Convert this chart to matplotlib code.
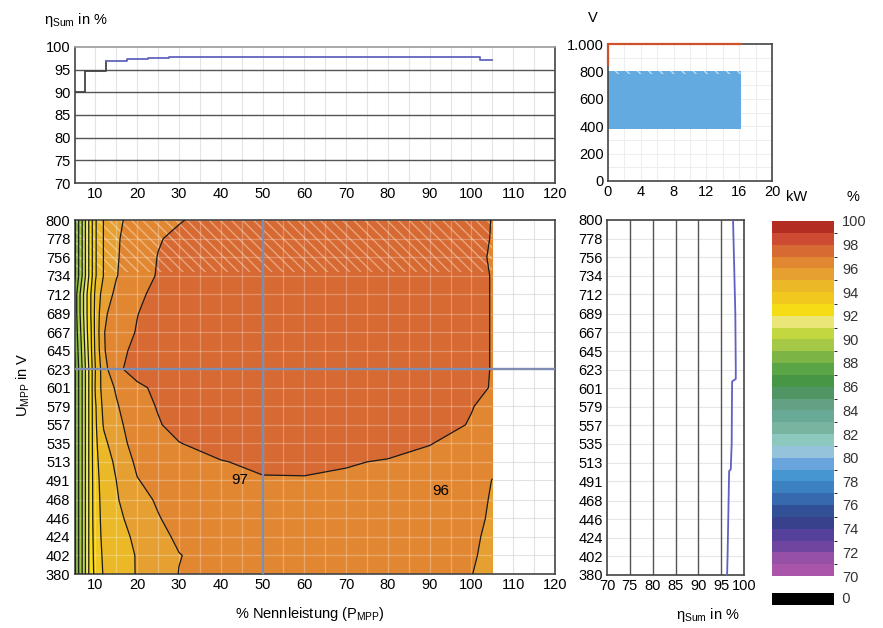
import numpy as np
import matplotlib.pyplot as plt
from matplotlib.colors import ListedColormap, BoundaryNorm
from matplotlib.cm import ScalarMappable
from matplotlib.patches import Rectangle

plt.rcParams['font.family'] = ['Liberation Sans', 'DejaVu Sans']
plt.rcParams['mathtext.fontset'] = 'custom'
plt.rcParams['mathtext.rm'] = 'Liberation Sans'
plt.rcParams['mathtext.it'] = 'Liberation Sans'
plt.rcParams['mathtext.default'] = 'regular'
plt.rcParams['font.size'] = 10
plt.rcParams['hatch.linewidth'] = 1.0

# --- data -------------------------------------------------------------
# Wirkungsgradkennfeld: Zeilen = U_MPP, Spalten = % Nennleistung
power_pct = [5, 6, 7, 8, 9, 10, 12, 15, 20, 25, 30, 40, 50, 60, 70, 80, 90, 100, 105]
u_mpp = [380, 402, 424, 446, 468, 491, 513, 535, 557, 579,
         601, 623, 645, 667, 689, 712, 734, 756, 778, 800]
eff = [
    [87.8, 89.0, 90.2, 91.5, 92.7, 93.2, 94.1, 94.55, 95.05, 95.5, 96.02, 96.3, 96.45, 96.5, 96.5, 96.45, 96.3, 96.02, 95.7],
    [87.8, 89.0, 90.2, 91.5, 92.7, 93.3, 94.2, 94.6, 95.05, 95.5, 95.97, 96.35, 96.5, 96.55, 96.55, 96.5, 96.35, 96.1, 95.75],
    [87.8, 89.0, 90.2, 91.5, 92.7, 93.4, 94.3, 94.7, 95.15, 95.75, 96.15, 96.45, 96.6, 96.65, 96.65, 96.6, 96.45, 96.2, 95.75],
    [87.8, 89.0, 90.2, 91.5, 92.7, 93.5, 94.35, 94.8, 95.35, 95.95, 96.3, 96.6, 96.72, 96.75, 96.75, 96.7, 96.55, 96.3, 95.85],
    [87.8, 89.0, 90.2, 91.5, 92.7, 93.55, 94.4, 94.9, 95.7, 96.1, 96.45, 96.75, 96.85, 96.88, 96.85, 96.8, 96.65, 96.4, 95.9],
    [87.8, 89.0, 90.2, 91.5, 92.7, 93.6, 94.5, 95.0, 95.95, 96.35, 96.6, 96.85, 96.95, 96.95, 96.9, 96.8, 96.7, 96.45, 95.98],
    [87.8, 89.0, 90.2, 91.5, 92.7, 93.7, 94.6, 95.15, 96.2, 96.5, 96.8, 96.97, 97.12, 97.15, 97.05, 96.95, 96.85, 96.6, 96.2],
    [87.8, 89.0, 90.2, 91.5, 92.7, 93.8, 94.75, 95.55, 96.4, 96.7, 96.98, 97.25, 97.35, 97.4, 97.35, 97.25, 97.02, 96.8, 96.4],
    [87.8, 89.0, 90.2, 91.5, 92.7, 93.85, 95.1, 95.75, 96.5, 96.95, 97.2, 97.5, 97.6, 97.65, 97.6, 97.5, 97.3, 96.95, 96.6],
    [87.8, 89.0, 90.2, 91.5, 92.7, 93.9, 95.3, 95.9, 96.75, 97.04, 97.35, 97.6, 97.7, 97.72, 97.7, 97.65, 97.6, 97.03, 96.8],
    [87.8, 89.0, 90.2, 91.5, 92.7, 94.1, 95.5, 96.1, 96.85, 97.15, 97.45, 97.7, 97.8, 97.8, 97.8, 97.75, 97.7, 97.65, 96.85],
    [87.8, 89.0, 90.2, 91.5, 92.7, 94.0, 95.6, 96.85, 97.3, 97.5, 97.6, 97.8, 97.85, 97.85, 97.8, 97.8, 97.75, 97.7, 96.9],
    [88.0, 89.2, 90.4, 91.7, 92.9, 94.2, 95.9, 96.75, 97.2, 97.45, 97.55, 97.75, 97.8, 97.8, 97.8, 97.75, 97.75, 97.7, 96.9],
    [88.2, 89.4, 90.6, 91.9, 93.0, 94.3, 95.95, 96.6, 97.05, 97.35, 97.5, 97.7, 97.75, 97.8, 97.8, 97.75, 97.75, 97.7, 96.9],
    [88.3, 89.6, 90.8, 92.0, 93.1, 94.3, 95.8, 96.5, 96.98, 97.3, 97.45, 97.65, 97.7, 97.75, 97.75, 97.75, 97.7, 97.7, 96.9],
    [88.3, 89.6, 90.8, 92.0, 93.1, 94.2, 95.5, 96.2, 96.85, 97.2, 97.4, 97.6, 97.7, 97.7, 97.7, 97.7, 97.7, 97.7, 96.9],
    [87.8, 89.0, 90.2, 91.5, 92.7, 93.9, 95.05, 95.95, 96.7, 97.05, 97.3, 97.55, 97.65, 97.7, 97.7, 97.7, 97.7, 97.7, 96.9],
    [87.8, 89.0, 90.2, 91.5, 92.7, 93.9, 95.05, 95.9, 96.65, 97.02, 97.25, 97.5, 97.65, 97.7, 97.7, 97.7, 97.7, 97.7, 96.75],
    [87.8, 89.0, 90.2, 91.5, 92.7, 93.9, 95.05, 95.88, 96.55, 96.95, 97.15, 97.4, 97.6, 97.7, 97.7, 97.7, 97.7, 97.7, 96.9],
    [87.8, 89.0, 90.2, 91.5, 92.7, 93.9, 95.05, 95.85, 96.3, 96.65, 96.95, 97.3, 97.5, 97.6, 97.6, 97.6, 97.6, 97.6, 96.95],
]

# Wirkungsgrad bei U_MPP = 623 V ueber der Leistung (Stufenverlauf)
p_steps = [5, 7.5, 12.5, 17.5, 22.5, 27.5, 35, 60, 77.5, 102, 105]
eta_p = [90.0, 94.8, 97.0, 97.3, 97.6, 97.8, 97.9, 97.85, 97.7, 97.1, 97.1]

# Wirkungsgrad bei 50 % Nennleistung ueber der Spannung
u_curve = [380, 402, 446, 491, 503, 505, 513, 535, 579, 609, 612, 623, 689, 756, 800]
eta_u = [96.3, 96.4, 96.55, 96.7, 96.75, 97.1, 97.15, 97.3, 97.35, 97.4, 98.2, 98.2, 98.1, 97.8, 97.6]

# Arbeitsbereich (kW / V)
p_max_kw = 16.2
u_range = [380, 800]
u_dc_max = 1000

levels = np.arange(70, 101, 1)
band_colors = ['#aa55aa', '#9650a5', '#6e46a0', '#55419b', '#37418c', '#325096',
               '#3769af', '#3c82c3', '#4696d2', '#69a5dc', '#96c3dc', '#8cc8be',
               '#78b4a0', '#69aa96', '#64a082', '#509664', '#469646', '#5aa546',
               '#7db446', '#a5c846', '#c3d741', '#ebe678', '#f5dc14', '#f0c81e',
               '#ebb928', '#e6a032', '#e18732', '#d76932', '#cd4b32', '#b42d23']

# --- layout -----------------------------------------------------------
W, H = 883, 628
fig = plt.figure(figsize=(W / 100, H / 100), dpi=100)


def box(l, t, r, b):
    return [l / W, 1 - b / H, (r - l) / W, (b - t) / H]


ax_top = fig.add_axes(box(74.5, 47, 555, 183))
ax_main = fig.add_axes(box(74.5, 220, 555, 574))
ax_kw = fig.add_axes(box(608, 44, 772, 181))
ax_side = fig.add_axes(box(607, 220, 744, 575))
cax = fig.add_axes(box(772, 221, 834, 576))
zax = fig.add_axes(box(772, 593, 834, 605))

spine_col = '#444444'
for ax in (ax_top, ax_main, ax_kw, ax_side):
    ax.tick_params(length=0, pad=3, labelsize=10.5)
    for s in ax.spines.values():
        s.set_color(spine_col)
        s.set_linewidth(1.2)

# --- main map ---------------------------------------------------------
cmap = ListedColormap(band_colors)
norm = BoundaryNorm(levels, cmap.N)
P, U = np.meshgrid(power_pct, u_mpp)
Z = np.array(eff)

ax_main.vlines(np.arange(10, 121, 5), 380, 800, colors='#e2e2e2', lw=0.8, zorder=0)
ax_main.hlines(u_mpp, 5, 120, colors='#e2e2e2', lw=0.8, zorder=0)
ax_main.contourf(P, U, Z, levels=levels, cmap=cmap, norm=norm, zorder=1)
ax_main.vlines(np.arange(10, 105, 5), 380, 800, colors='white', alpha=0.28, lw=0.9, zorder=2)
ax_main.hlines(u_mpp, 5, 105, colors='white', alpha=0.28, lw=0.9, zorder=2)
ax_main.add_patch(Rectangle((5, 738), 100, 62, fill=False, hatch='\\\\\\',
                            edgecolor=(1, 0.93, 0.85, 0.45), lw=0, zorder=2))
ax_main.contour(P, U, Z, levels=levels, colors='#1a1a1a', linewidths=0.9, zorder=3)
ax_main.axvline(50, color='#7f8db0', lw=1.7, zorder=4)
ax_main.axhline(623, color='#7f8db0', lw=1.7, zorder=4)
ax_main.text(44.5, 492, '97', fontsize=11, ha='center', va='center', zorder=5)
ax_main.text(92.6, 478, '96', fontsize=11, ha='center', va='center', zorder=5)

ax_main.set_xlim(5, 120)
ax_main.set_ylim(380, 800)
ax_main.set_xticks(range(10, 121, 10))
ax_main.set_yticks(u_mpp)
ax_main.set_yticklabels([str(u) for u in u_mpp])

# --- efficiency vs power ----------------------------------------------
ax_top.vlines(np.arange(10, 121, 5), 70, 100, colors='#e4e4e4', lw=0.8, zorder=0)
for v in [75, 80, 85, 90, 95]:
    ax_top.axhline(v, color='#555555', lw=1.0, zorder=1)
ax_top.plot(p_steps[:3], eta_p[:3], drawstyle='steps-post', color='#444444', lw=1.3, zorder=3)
ax_top.plot(p_steps[2:], eta_p[2:], drawstyle='steps-post', color='#6464c0', lw=1.3, zorder=3)
ax_top.set_xlim(5, 120)
ax_top.set_ylim(70, 100)
ax_top.set_xticks(range(10, 121, 10))
ax_top.set_yticks(range(70, 101, 5))
ax_top.spines['top'].set_color('#999999')

# --- working range ----------------------------------------------------
ax_kw.vlines(np.arange(2, 20, 2), 0, 1000, colors='#eeeeee', lw=0.8, zorder=0)
ax_kw.hlines(np.arange(100, 1000, 100), 0, 20, colors='#eeeeee', lw=0.8, zorder=0)
ax_kw.add_patch(Rectangle((0, u_range[0]), p_max_kw, u_range[1] - u_range[0],
                          facecolor='#62aadf', edgecolor='none', zorder=1))
ax_kw.add_patch(Rectangle((0, u_range[1] - 22), p_max_kw, 22, fill=False, hatch='\\\\\\',
                          edgecolor=(1, 1, 1, 0.6), lw=0, zorder=2))
ax_kw.plot([0, 0, p_max_kw], [850, u_dc_max, u_dc_max], color='#d0502a', lw=1.6, zorder=3,
           clip_on=False)
ax_kw.set_xlim(0, 20)
ax_kw.set_ylim(0, 1000)
ax_kw.set_xticks(range(0, 21, 4))
ax_kw.set_yticks(range(0, 1001, 200))
ax_kw.set_yticklabels(['0', '200', '400', '600', '800', '1.000'])

# --- efficiency vs voltage --------------------------------------------
ax_side.hlines(u_mpp, 70, 100, colors='#e6e6e6', lw=0.8, zorder=0)
for v in [75, 80, 85, 90, 95]:
    ax_side.axvline(v, color='#555555', lw=1.0, zorder=1)
ax_side.plot(eta_u, u_curve, color='#6060c4', lw=1.3, zorder=3)
ax_side.set_xlim(70, 100)
ax_side.set_ylim(380, 800)
ax_side.set_xticks(range(70, 101, 5))
ax_side.set_yticks(u_mpp)
ax_side.set_yticklabels([str(u) for u in u_mpp])

# --- colour scale -----------------------------------------------------
cb = fig.colorbar(ScalarMappable(norm=norm, cmap=cmap), cax=cax, ticks=range(70, 101, 2))
cb.outline.set_visible(False)
cax.tick_params(length=0, pad=6, labelsize=10.5, labelcolor='#333333')
zax.set_facecolor('black')
zax.set_xticks([])
zax.set_yticks([])
for s in zax.spines.values():
    s.set_visible(False)
zax.text(1.0, 0.5, '  0', transform=zax.transAxes, ha='left', va='center',
         fontsize=10.5, color='#333333')

# --- labels -----------------------------------------------------------
fig.text(44 / W, 1 - 20 / H, r'$\eta_{Sum}$ in %', ha='left', va='center', fontsize=10.5)
fig.text(593 / W, 1 - 18 / H, 'V', ha='center', va='center', fontsize=10.5)
fig.text(797 / W, 1 - 197 / H, 'kW', ha='center', va='center', fontsize=10.5)
fig.text(853 / W, 1 - 197 / H, '%', ha='center', va='center', fontsize=10.5)
fig.text(310 / W, 1 - 614 / H, r'% Nennleistung ($P_{MPP}$)', ha='center', va='center',
         fontsize=10.5)
fig.text(23 / W, 1 - 385 / H, r'$U_{MPP}$ in V', ha='center', va='center', rotation=90,
         fontsize=10.5)
fig.text(708 / W, 1 - 615 / H, r'$\eta_{Sum}$ in %', ha='center', va='center', fontsize=10.5)

fig.savefig('out.png', dpi=100)
